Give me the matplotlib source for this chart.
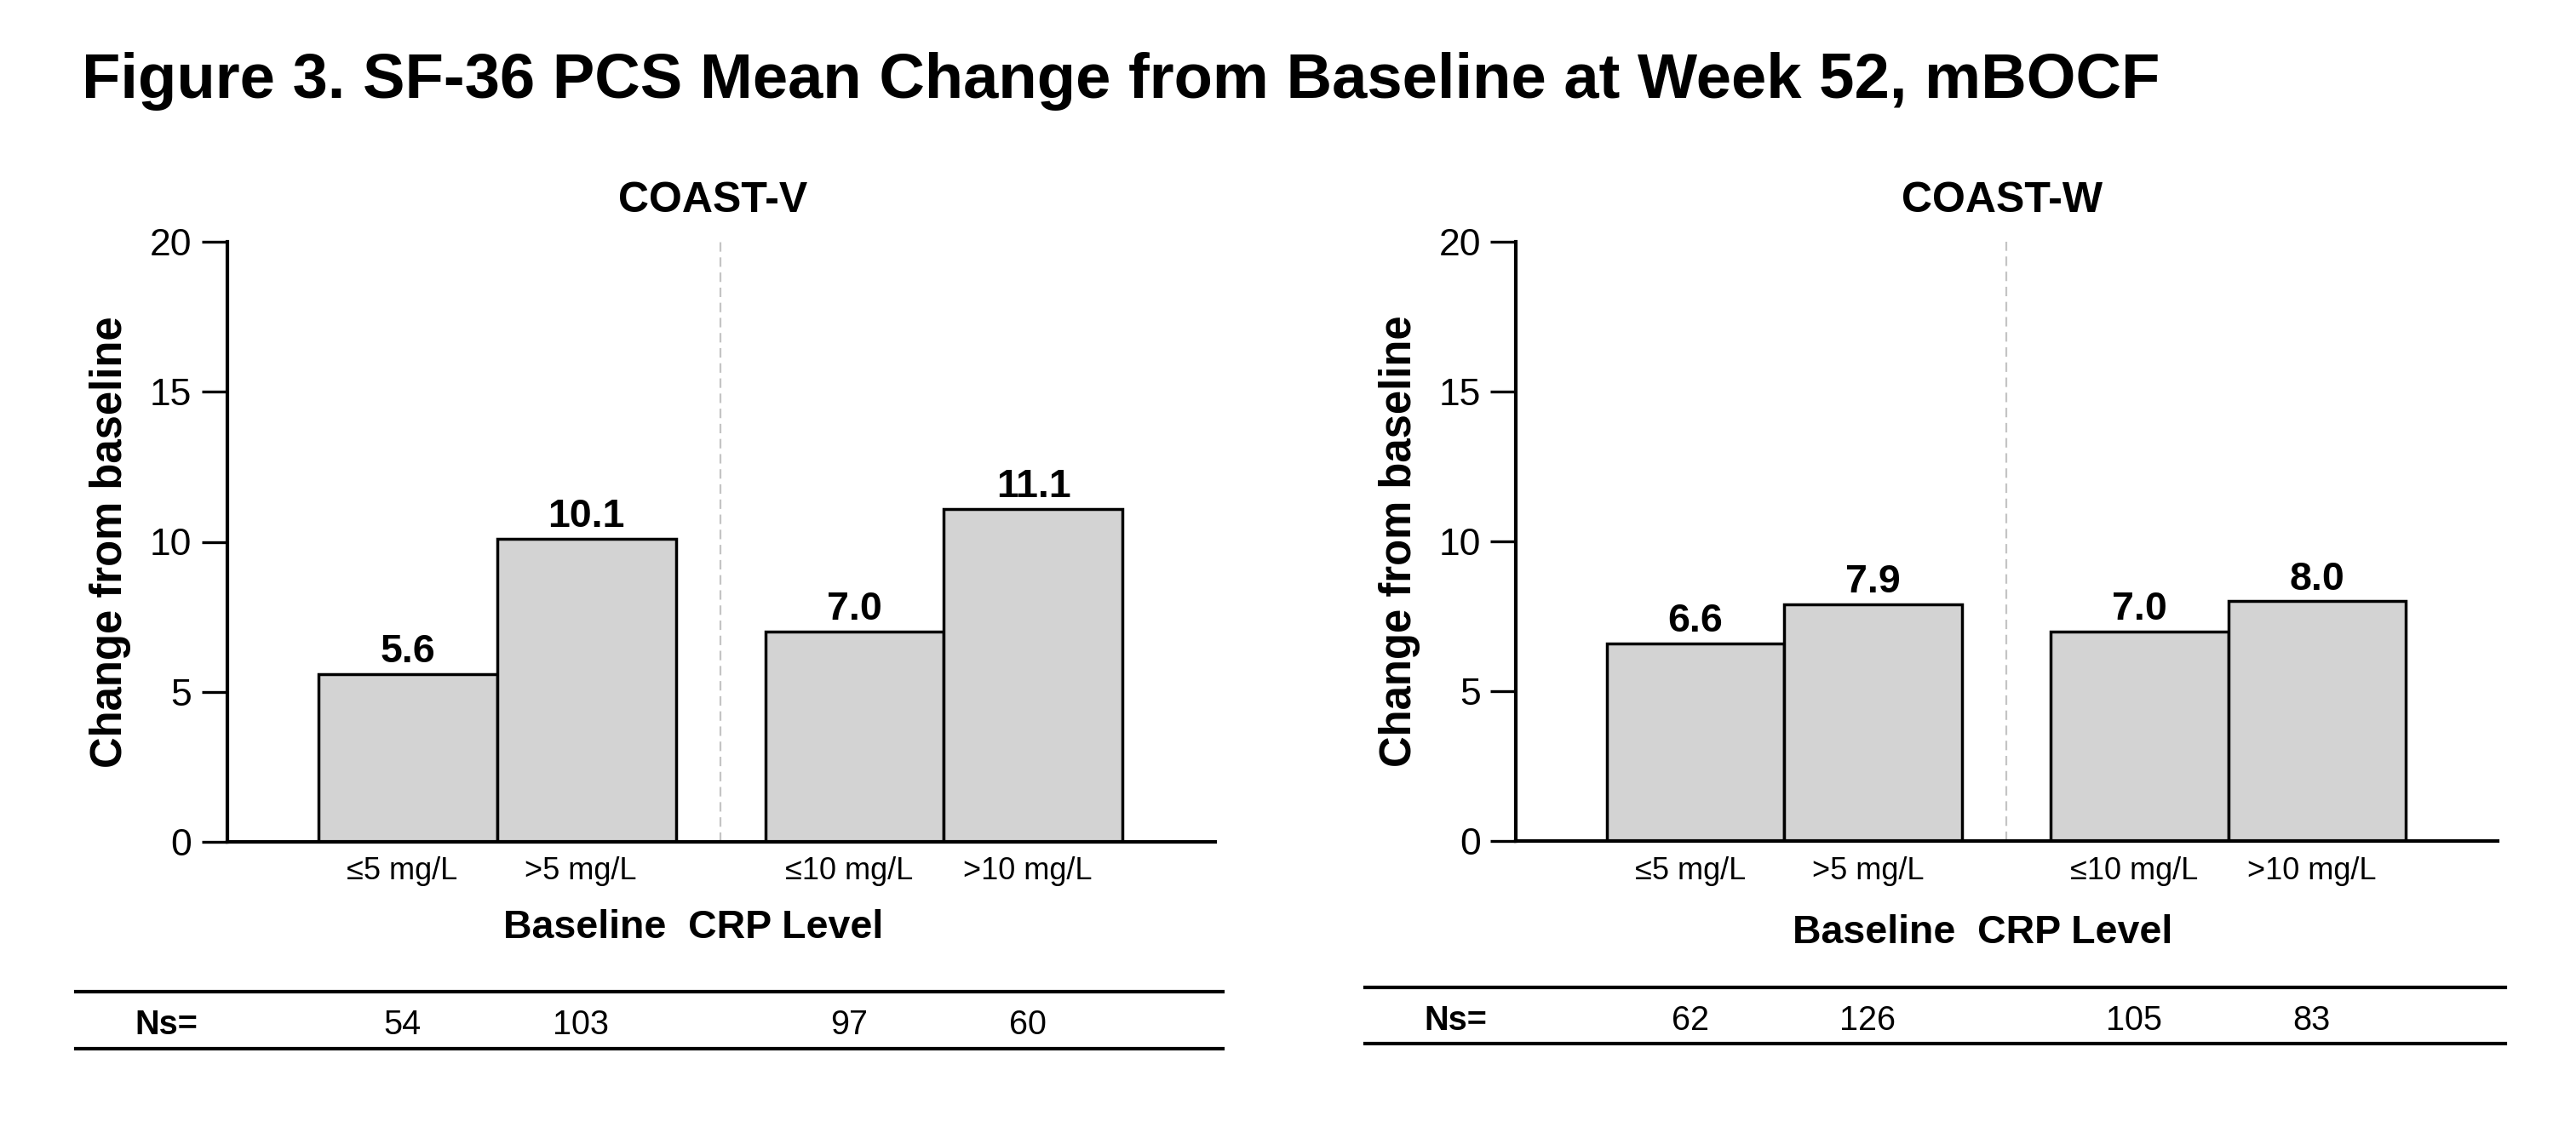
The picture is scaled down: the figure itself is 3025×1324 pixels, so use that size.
import matplotlib
matplotlib.use("Agg")
import matplotlib.pyplot as plt
from matplotlib.transforms import blended_transform_factory
from matplotlib.lines import Line2D

plt.rcParams['font.family'] = ['Liberation Sans', 'DejaVu Sans']

# ---------------- data ----------------
title = "Figure 3. SF-36 PCS Mean Change from Baseline at Week 52, mBOCF"
panel_titles = ["COAST-V", "COAST-W"]
categories = ["\u22645 mg/L", ">5 mg/L", "\u226410 mg/L", ">10 mg/L"]
coast_v_values = [5.6, 10.1, 7.0, 11.1]
coast_w_values = [6.6, 7.9, 7.0, 8.0]
coast_v_ns = [54, 103, 97, 60]
coast_w_ns = [62, 126, 105, 83]
y_ticks = [0, 5, 10, 15, 20]
y_label = "Change from baseline"
x_label = "Baseline  CRP Level"
ns_label = "Ns="

positions = [0, 1, 2.5, 3.5]
divider_pos = 1.75

W, H = 3025, 1324
fig = plt.figure(figsize=(W / 100, H / 100), dpi=100)


def fx(px):
    return px / W


def fy(py):
    return 1 - py / H


fig.text(fx(96), fy(115), title, fontsize=53.5, fontweight='bold',
         ha='left', va='baseline')

panels = [
    dict(ax_l=266.5, ax_r=1426.6, ax_b=989, ax_t=284, vals=coast_v_values,
         ns=coast_v_ns, title=panel_titles[0], xlab_base=1101.7,
         tick_base=1032.7, line_l=89, line_r=1436, line1=1165, line2=1231.5,
         ns_base=1215),
    dict(ax_l=1780.3, ax_r=2932.8, ax_b=988, ax_t=284, vals=coast_w_values,
         ns=coast_w_ns, title=panel_titles[1], xlab_base=1108,
         tick_base=1032.7, line_l=1603, line_r=2942, line1=1160, line2=1226,
         ns_base=1210),
]

for p in panels:
    ax = fig.add_axes([fx(p['ax_l']), fy(p['ax_b']),
                       (p['ax_r'] - p['ax_l']) / W, (p['ax_b'] - p['ax_t']) / H])
    ax.bar(positions, p['vals'], width=1.0, color='#d3d3d3', edgecolor='black',
           linewidth=2.5, zorder=2)
    ax.set_xlim(-1.01, 4.515)
    ax.set_ylim(0, 20)
    ax.set_yticks(y_ticks)
    ax.set_yticklabels([str(t) for t in y_ticks], fontsize=32)
    ax.tick_params(axis='y', length=21.6, width=2.4, pad=8, direction='out')
    ax.set_xticks([])
    for s in ['top', 'right']:
        ax.spines[s].set_visible(False)
    ax.spines['left'].set_linewidth(3.0)
    ax.spines['bottom'].set_linewidth(3.0)
    ax.spines['bottom'].set_zorder(5)
    ax.axvline(divider_pos, color='#c4c4c4', linewidth=1.6,
               linestyle=(0, (5, 3)), zorder=1)

    # value labels
    for xp, v in zip(positions, p['vals']):
        ax.annotate(f"{v:.1f}", xy=(xp, v), xytext=(0, 10),
                    textcoords='offset points', ha='center', va='baseline',
                    fontsize=33.5, fontweight='bold')

    bt = blended_transform_factory(ax.transData, fig.transFigure)
    # category labels
    for xp, c in zip(positions, categories):
        ax.text(xp - 0.03, fy(p['tick_base']), c, transform=bt, ha='center',
                va='baseline', fontsize=26)
    # Ns
    for xp, n in zip(positions, p['ns']):
        ax.text(xp - 0.03, fy(p['ns_base']), str(n), transform=bt,
                ha='center', va='baseline', fontsize=28.5)
    fig.text(fx(p['ax_l'] - 71), fy(p['ns_base']), ns_label, ha='center',
             va='baseline', fontsize=28.5, fontweight='bold')

    # panel title
    fig.text(fx(p['ax_l'] + 571), fy(249), p['title'], ha='center',
             va='baseline', fontsize=36, fontweight='bold')
    # x label
    fig.text(fx(p['ax_l'] + 547.5), fy(p['xlab_base']), x_label, ha='center',
             va='baseline', fontsize=33.5, fontweight='bold')
    # y label
    fig.text(fx(p['ax_l'] - 123.5), fy((p['ax_b'] + p['ax_t']) / 2), y_label,
             rotation=90, rotation_mode='anchor', ha='center', va='baseline',
             fontsize=36.5, fontweight='bold')

    # table lines
    for ly in (p['line1'], p['line2']):
        fig.add_artist(Line2D([fx(p['line_l']), fx(p['line_r'])], [fy(ly), fy(ly)],
                              transform=fig.transFigure, color='black',
                              linewidth=3.0))

fig.savefig("out.png", dpi=100, facecolor='white')
